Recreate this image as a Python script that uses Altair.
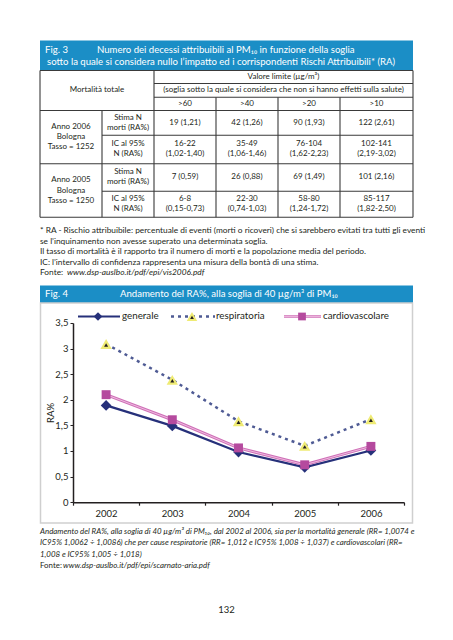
import altair as alt
import pandas as pd

# ---------------- data ----------------
years = ["2002", "2003", "2004", "2005", "2006"]
series_names = ["generale", "respiratoria", "cardiovascolare"]
generale = [1.89, 1.49, 0.98, 0.68, 1.01]
respiratoria = [3.09, 2.39, 1.58, 1.10, 1.62]
cardiovascolare = [2.10, 1.61, 1.06, 0.73, 1.09]
y_ticks = [0, 0.5, 1, 1.5, 2, 2.5, 3, 3.5]

thresholds = [">60", ">40", ">20", ">10"]
stima_2006 = ["19 (1,21)", "42 (1,26)", "90 (1,93)", "122 (2,61)"]
ic_2006_n = ["16-22", "35-49", "76-104", "102-141"]
ic_2006_ra = ["(1,02-1,40)", "(1,06-1,46)", "(1,62-2,23)", "(2,19-3,02)"]
stima_2005 = ["7 (0,59)", "26 (0,88)", "69 (1,49)", "101 (2,16)"]
ic_2005_n = ["6-8", "22-30", "58-80", "85-117"]
ic_2005_ra = ["(0,15-0,73)", "(0,74-1,03)", "(1,24-1,72)", "(1,82-2,50)"]

fig3_label = "Fig. 3"
fig3_title1 = "Numero dei decessi attribuibili al PM\u2081\u2080 in funzione della soglia"
fig3_title2 = "sotto la quale si considera nullo l\u2019impatto ed i corrispondenti Rischi Attribuibili* (RA)"
head_valore = "Valore limite (\u00b5g/m\u00b3)"
head_soglia = "(soglia sotto la quale si considera che non si hanno effetti sulla salute)"
head_mort = "Mortalit\u00e0 totale"
block_2006 = ["Anno 2006", "Bologna", "Tasso = 1252"]
block_2005 = ["Anno 2005", "Bologna", "Tasso = 1250"]
row_stima = ["Stima N", "morti (RA%)"]
row_ic = ["IC al 95%", "N (RA%)"]

notes = [
    "* RA - Rischio attribuibile: percentuale di eventi (morti o ricoveri) che si sarebbero evitati tra tutti gli eventi",
    "se l\u2019inquinamento non avesse superato una determinata soglia.",
    "Il tasso di mortalit\u00e0 \u00e8 il rapporto tra il numero di morti e la popolazione media del periodo.",
    "IC: l\u2019intervallo di confidenza rappresenta una misura della bont\u00e0 di una stima.",
]
fonte_label = "Fonte:"
notes_url = "www.dsp-auslbo.it/pdf/epi/vis2006.pdf"

fig4_label = "Fig. 4"
fig4_title = "Andamento del RA%, alla soglia di 40 \u00b5g/m\u00b3 di PM\u2081\u2080"
caption = [
    "Andamento del RA%, alla soglia di 40 \u00b5g/m\u00b3 di PM\u2081\u2080, dal 2002 al 2006, sia per la mortalit\u00e0 generale (RR= 1,0074 e",
    "IC95% 1,0062 \u00f7 1,0086) che per cause respiratorie (RR= 1,012 e IC95% 1,008 \u00f7 1,037) e cardiovascolari (RR=",
    "1,008 e IC95% 1,005 \u00f7 1,018)",
]
caption_url = "www.dsp-auslbo.it/pdf/epi/scarnato-aria.pdf"
page_number = "132"

# ---------------- layout / style ----------------
FONT = "Lato"
INK = "#231f20"
BLUE = "#1b8ec6"
NAVY = "#26307a"
PINK = "#cf6fb7"
PINK_IN = "#f2c4e4"
MAGENTA = "#b54a9e"
RESP = "#4f5b94"
YELLOW = "#efeb74"

OX, OY = 73.0, 322.5          # page position of the plot origin
PW, PH = 331.0, 179.2         # plot size

ONE = pd.DataFrame({"k": [0]})


def X(px):
    return px - OX


def Y(py):
    return py - OY


col_edges = [40, 102, 154, 216, 278, 340, 413]
col_c = [(a + b) / 2 for a, b in zip(col_edges[:-1], col_edges[1:])]
row_edges = [70, 83, 96.7, 110, 134.7, 163.3, 190.7, 216.7]


def texts(rows, size, color=INK, align="left", style="normal"):
    out = []
    for t, px, py in rows:
        out.append(alt.Chart(ONE).mark_text(
            font=FONT, fontSize=size, color=color, align=align,
            baseline="middle", fontStyle=style,
        ).encode(x=alt.value(X(px)), y=alt.value(Y(py)), text=alt.value(t)))
    return out


def rect(x1, y1, x2, y2, fill=None, stroke=None, sw=1.0):
    kw = {}
    if fill is not None:
        kw["fill"] = fill
    else:
        kw["fill"] = "white"
        kw["fillOpacity"] = 0
    if stroke is not None:
        kw["stroke"] = stroke
        kw["strokeWidth"] = sw
    return alt.Chart(ONE).mark_rect(**kw).encode(
        x=alt.value(X(x1)), x2=alt.value(X(x2)),
        y=alt.value(Y(y1)), y2=alt.value(Y(y2)),
    )


def rules(segs, color=INK, width=1.0, dash=None):
    out = []
    kw = dict(color=color, strokeWidth=width)
    if dash is not None:
        kw["strokeDash"] = dash
    for x1, y1, x2, y2 in segs:
        out.append(alt.Chart(ONE).mark_rule(**kw).encode(
            x=alt.value(X(x1)), x2=alt.value(X(x2)),
            y=alt.value(Y(y1)), y2=alt.value(Y(y2)),
        ))
    return out


def point(px, py, shape, size, fill):
    return alt.Chart(ONE).mark_point(
        shape=shape, size=size, filled=True, fill=fill, opacity=1, strokeWidth=0
    ).encode(x=alt.value(X(px)), y=alt.value(Y(py)))


# ---------- page furniture ----------
page = []
page.append(rect(8, 8, 445, 628, fill="white"))

# Fig. 3 header
page.append(rect(40, 40, 413, 70, fill=BLUE))
page += texts([(fig3_label, 45, 50), (fig3_title1, 97, 50), (fig3_title2, 47, 62)],
              9.6, color="white")

# table grid
L, R = col_edges[0], col_edges[-1]
segs = [
    (L, row_edges[0], R, row_edges[0]),
    (col_edges[2], row_edges[1], R, row_edges[1]),
    (col_edges[2], row_edges[2], R, row_edges[2]),
    (L, row_edges[3], R, row_edges[3]),
    (col_edges[1], row_edges[4], R, row_edges[4]),
    (L, row_edges[5], R, row_edges[5]),
    (col_edges[1], row_edges[6], R, row_edges[6]),
    (L, row_edges[7], R, row_edges[7]),
    (L, row_edges[0], L, row_edges[7]),
    (R, row_edges[0], R, row_edges[7]),
    (col_edges[2], row_edges[0], col_edges[2], row_edges[7]),
    (col_edges[1], row_edges[3], col_edges[1], row_edges[7]),
]
for c in col_edges[3:6]:
    segs.append((c, row_edges[2], c, row_edges[7]))
page += rules(segs, color="#3a3a3a", width=1.1)

head_c = (col_edges[2] + col_edges[-1]) / 2
cells = [
    (head_valore, head_c, 76.5),
    (head_soglia, head_c, 90),
    (head_mort, (col_edges[0] + col_edges[2]) / 2, 90),
]
for i, t in enumerate(thresholds):
    cells.append((t, col_c[2 + i], 103.5))
for t, yy in zip(block_2006, [127, 137, 147]):
    cells.append((t, col_c[0], yy))
for t, yy in zip(block_2005, [180, 190.5, 200.5]):
    cells.append((t, col_c[0], yy))
for t, yy in zip(row_stima + row_ic + row_stima + row_ic,
                 [118, 127.5, 144, 153.3, 171.5, 181.5, 199, 209]):
    cells.append((t, col_c[1], yy))
for i in range(4):
    c = col_c[2 + i]
    cells += [(stima_2006[i], c, 122.8), (ic_2006_n[i], c, 144), (ic_2006_ra[i], c, 153.3),
              (stima_2005[i], c, 177), (ic_2005_n[i], c, 199), (ic_2005_ra[i], c, 209)]
page += texts(cells, 8.0, align="center")

# notes
NS = 8.35
note_rows = [(t, 40, yy) for t, yy in zip(notes, [230, 240.5, 251, 261.3])]
note_rows.append((fonte_label, 40, 271.6))
page += texts(note_rows, NS)
page += texts([(notes_url, 67, 271.6)], NS, style="italic")

# Fig. 4 header
page.append(rect(40, 285, 413, 302.5, fill=BLUE))
page += texts([(fig4_label, 45, 293.8), (fig4_title, 120, 293.8)], 9.6, color="white")

# chart frame
page.append(rect(40.5, 302.5, 412.5, 522.5, stroke="#cfcfcf", sw=1.5))

# legend
LY = 316
page += rules([(78, LY, 120, LY)], color=NAVY, width=2)
page.append(point(98, LY, "diamond", 75, NAVY))
page += rules([(171, LY, 215, LY)], color=RESP, width=2.5, dash=[3, 4])
page.append(point(192, LY, "triangle-up", 110, YELLOW))
page.append(point(192, LY + 1, "triangle-up", 14, INK))
page += rules([(284, LY, 321, LY)], color=PINK, width=2.6)
page += rules([(284, LY, 321, LY)], color=PINK_IN, width=0.8)
page.append(point(302, LY, "square", 60, MAGENTA))
page += texts([(series_names[0], 122, LY), (series_names[1], 216, LY),
               (series_names[2], 323, LY)], 9.8)

# caption
CS = 7.9
page += texts([(t, 40, yy) for t, yy in zip(caption, [531.3, 542.8, 554.3])], CS, style="italic")
page += texts([(fonte_label, 40, 565.8)], CS)
page += texts([(caption_url, 63, 565.8)], CS, style="italic")
page += texts([(page_number, 226.5, 610)], 9.5, align="center")

# ---------- line chart (data through scales and axes) ----------
df = pd.DataFrame({
    "year": years * 3,
    "serie": [series_names[0]] * 5 + [series_names[1]] * 5 + [series_names[2]] * 5,
    "value": generale + respiratoria + cardiovascolare,
})

x_enc = alt.X(
    "year:N",
    scale=alt.Scale(type="band", domain=years, paddingInner=0, paddingOuter=0),
    axis=alt.Axis(
        title=None, labelAngle=0, tickBand="extent", grid=False,
        domainColor=INK, domainWidth=1.5, tickColor=INK, tickWidth=1.2, tickSize=3,
        labelFont=FONT, labelFontSize=9.5, labelColor=INK, labelPadding=3, zindex=2,
    ),
)
y_enc = alt.Y(
    "value:Q",
    scale=alt.Scale(domain=[0, 3.5], nice=False, zero=True),
    axis=alt.Axis(
        values=y_ticks, labelExpr="replace(toString(datum.value), '.', ',')",
        grid=False, domainColor=INK, domainWidth=1.5, tickColor=INK, tickWidth=1,
        tickSize=3, labelFont=FONT, labelFontSize=9.5, labelColor=INK, labelPadding=2,
        title="RA%", titleFont=FONT, titleFontSize=9.5, titleFontWeight="normal",
        titleColor=INK, titleX=X(50), titleY=Y(412), titleAngle=270,
        titleAlign="center", titleBaseline="middle", zindex=2,
    ),
)
base = alt.Chart(df).encode(x=x_enc, y=y_enc)


def sel(name):
    return base.transform_filter(alt.datum.serie == name)


chart_layers = [
    sel(series_names[0]).mark_line(color=NAVY, strokeWidth=2.2),
    sel(series_names[0]).mark_point(shape="diamond", size=115, filled=True, color=NAVY, opacity=1),
    sel(series_names[2]).mark_line(color=PINK, strokeWidth=3),
    sel(series_names[2]).mark_line(color=PINK_IN, strokeWidth=0.9),
    sel(series_names[2]).mark_point(shape="square", size=80, filled=True, color=MAGENTA, opacity=1),
    sel(series_names[1]).mark_line(color=RESP, strokeWidth=2.5, strokeDash=[3, 4]),
    sel(series_names[1]).mark_point(shape="triangle-up", size=130, filled=True, color=YELLOW, opacity=1),
    sel(series_names[1]).mark_point(shape="triangle-up", size=16, filled=True, color=INK, opacity=1,
                                    yOffset=1),
]

chart = alt.layer(*page, *chart_layers).properties(
    width=PW, height=PH, padding=0
).configure_view(stroke=None)

chart.save("out.html", embed_options={"renderer": "svg", "actions": False})
